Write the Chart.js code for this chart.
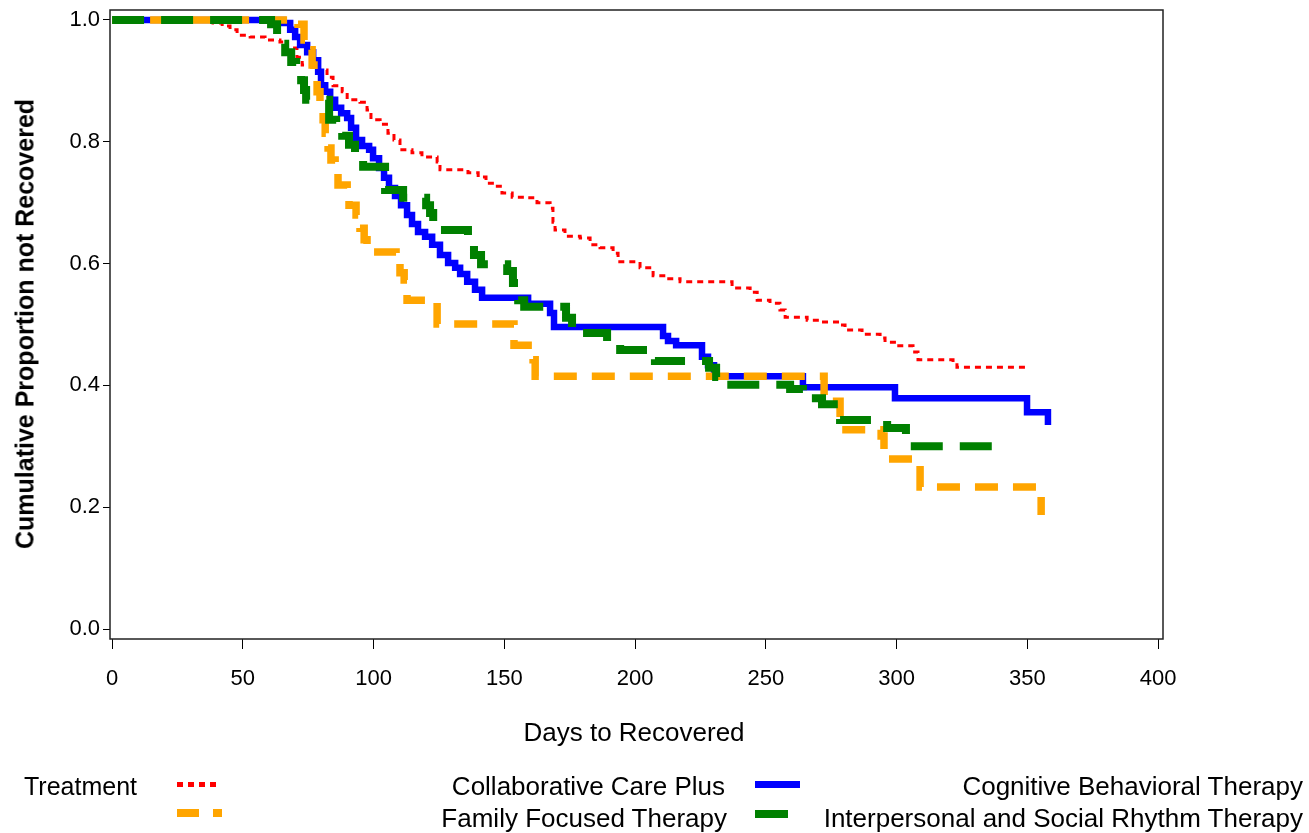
<!DOCTYPE html>
<html lang="en">
<head>
<meta charset="UTF-8">
<title>Days to Recovered</title>
<script src="https://cdn.jsdelivr.net/npm/chart.js"></script>
<style>
    html, body { margin: 0; padding: 0; background: #fff; }
    body {
        width: 1309px; height: 833px; position: relative; overflow: hidden;
        font-family: 'Liberation Sans', Arial, sans-serif; color: #000;
    }
    #km { position: absolute; left: 0; top: 0; }
    .ytitle {
        position: absolute; left: 25px; top: 324px; white-space: nowrap;
        transform: translate(-50%, -50%) rotate(-90deg);
        font-size: 25px; font-weight: bold;
    }
    .xtitle {
        position: absolute; left: 634px; top: 732px; white-space: nowrap;
        transform: translate(-50%, -50%); font-size: 26px;
    }
    .leg { position: absolute; font-size: 26px; white-space: nowrap; transform: translateY(-50%); }
    .swatch { position: absolute; }
</style>
</head>
<body>
<canvas id="km" width="1309" height="833"></canvas>
<div class="ytitle">Cumulative Proportion not Recovered</div>
<div class="xtitle">Days to Recovered</div>

<!-- legend -->
<div class="leg" style="left:24px; top:786px; font-size:25px;">Treatment</div>
<div class="swatch" style="left:177px; top:782px; width:41px; height:5px; background:repeating-linear-gradient(90deg,#ff0000 0 6px,transparent 6px 11px);"></div>
<div class="swatch" style="left:177px; top:809px; width:45px; height:8px; background:repeating-linear-gradient(90deg,#ffa500 0 22px,transparent 22px 36px);"></div>
<div class="leg" style="right:584px; top:786px;">Collaborative Care Plus</div>
<div class="leg" style="right:582px; top:818px;">Family Focused Therapy</div>
<div class="swatch" style="left:755px; top:781px; width:45px; height:7px; background:#0000ff;"></div>
<div class="swatch" style="left:755px; top:810px; width:45px; height:8px; background:repeating-linear-gradient(90deg,#008000 0 33px,transparent 33px 50px);"></div>
<div class="leg" style="right:6px; top:786px;">Cognitive Behavioral Therapy</div>
<div class="leg" style="right:6px; top:818px;">Interpersonal and Social Rhythm Therapy</div>

<script>
    // Collaborative Care Plus (red dotted)
    const ccpDays = [0, 38.6, 42.1, 45.1, 47.8, 52.8, 58.5, 64.2, 66.9, 70.7, 72.7, 76.9, 82.2, 84.5, 88.0, 89.9,
        94.8, 97.5, 99.0, 102.5, 105.5, 107.8, 110.1, 114.7, 118.5, 124.3, 125.4, 136.1, 140.0, 143.0, 146.5,
        149.1, 153.0, 157.9, 162.5, 167.5, 168.6, 169.4, 173.2, 179.0, 182.8, 186.6, 191.6, 193.5, 201.9,
        206.9, 212.2, 217.2, 237.1, 244.0, 246.7, 251.6, 255.4, 257.4, 265.8, 270.7, 278.4, 280.3, 286.8,
        293.7, 295.6, 300.2, 306.3, 308.2, 321.6, 323.1, 349.9];
    const ccpSurv = [1, 0.995, 0.990, 0.984, 0.975, 0.972, 0.967, 0.964, 0.954, 0.939, 0.926, 0.918, 0.906, 0.892, 0.882, 0.869,
        0.865, 0.852, 0.836, 0.829, 0.814, 0.803, 0.787, 0.782, 0.775, 0.767, 0.754, 0.749, 0.742, 0.732, 0.727,
        0.716, 0.709, 0.708, 0.700, 0.691, 0.668, 0.655, 0.645, 0.642, 0.631, 0.626, 0.617, 0.603, 0.593,
        0.580, 0.575, 0.570, 0.560, 0.553, 0.540, 0.535, 0.524, 0.512, 0.507, 0.504, 0.499, 0.491, 0.484,
        0.478, 0.471, 0.465, 0.455, 0.442, 0.437, 0.430, 0.430];

    // Cognitive Behavioral Therapy (blue solid)
    const cbtDays = [0, 65.4, 68.1, 70.0, 71.9, 74.6, 76.9, 78.8, 79.9, 81.5, 83.4, 85.3, 87.6, 89.9, 91.4, 93.3,
        95.6, 98.3, 99.8, 102.1, 104.0, 105.9, 108.2, 110.5, 112.8, 114.7, 117.0, 119.7, 122.4, 125.4, 128.5,
        131.2, 133.1, 135.8, 138.8, 141.5, 159.1, 167.5, 169.0, 210.7, 212.6, 215.7, 225.6, 227.9, 230.2,
        264.2, 299.4, 349.9, 357.9];
    const cbtSurv = [1, 0.995, 0.984, 0.972, 0.959, 0.947, 0.934, 0.915, 0.893, 0.882, 0.869, 0.856, 0.847, 0.839, 0.823, 0.803,
        0.793, 0.787, 0.773, 0.757, 0.741, 0.724, 0.711, 0.696, 0.680, 0.665, 0.652, 0.644, 0.631, 0.614, 0.601,
        0.593, 0.583, 0.570, 0.557, 0.544, 0.534, 0.519, 0.496, 0.481, 0.473, 0.466, 0.447, 0.433, 0.415,
        0.397, 0.379, 0.356, 0.335];

    // Family Focused Therapy (orange dashed)
    const fftDays = [0, 71.1, 73.4, 75.0, 76.5, 77.2, 78.4, 79.5, 80.7, 81.5, 82.6, 83.7, 85.3, 86.4, 89.9, 90.6,
        93.3, 94.8, 96.4, 97.5, 108.6, 110.1, 111.7, 112.8, 124.3, 153.7, 161.0, 161.8, 272.3, 278.4,
        294.1, 295.2, 307.8, 309.0, 354.5, 355.3];
    const fftSurv = [1, 0.993, 0.967, 0.951, 0.926, 0.905, 0.882, 0.856, 0.836, 0.814, 0.790, 0.770, 0.750, 0.729, 0.718, 0.696,
        0.680, 0.658, 0.639, 0.619, 0.606, 0.585, 0.573, 0.540, 0.501, 0.466, 0.442, 0.415, 0.374, 0.327,
        0.317, 0.279, 0.268, 0.233, 0.225, 0.187];

    // Interpersonal and Social Rhythm Therapy (green dashed)
    const ipsrtDays = [0, 60.8, 63.1, 64.6, 66.2, 68.5, 70.4, 72.3, 73.4, 74.2, 83.0, 85.7, 88.0, 90.6, 92.9, 94.8,
        96.0, 104.4, 111.3, 120.1, 121.6, 122.8, 136.1, 138.4, 141.1, 151.1, 153.3, 155.3, 157.6, 173.6,
        175.9, 189.3, 194.3, 207.6, 228.3, 231.0, 232.9, 259.3, 264.2, 271.5, 278.4, 296.4, 303.6, 338.0, 340.3];
    const ipsrtSurv = [1, 0.993, 0.975, 0.961, 0.947, 0.931, 0.918, 0.901, 0.885, 0.869, 0.836, 0.823, 0.810, 0.795, 0.783, 0.773,
        0.759, 0.721, 0.708, 0.696, 0.683, 0.655, 0.637, 0.614, 0.599, 0.588, 0.568, 0.540, 0.529, 0.511,
        0.486, 0.470, 0.458, 0.440, 0.429, 0.414, 0.401, 0.394, 0.379, 0.369, 0.343, 0.330, 0.300, 0.292, 0.292];

    const xTicks = [0, 50, 100, 150, 200, 250, 300, 350, 400];
    const yTicks = [0, 0.2, 0.4, 0.6, 0.8, 1.0];

    const pts = (days, surv) => days.map((d, i) => ({ x: d, y: surv[i] }));

    const line = (data, color, width, dash) => ({
        data: data,
        borderColor: color,
        borderWidth: width,
        borderDash: dash,
        borderCapStyle: 'butt',
        borderJoinStyle: 'miter',
        stepped: true,
        pointRadius: 0,
        fill: false
    });

    // frame round the plot area
    const frame = {
        id: 'frame',
        afterDraw(chart) {
            const { ctx, chartArea: a } = chart;
            ctx.save();
            ctx.strokeStyle = '#222';
            ctx.lineWidth = 1.5;
            ctx.strokeRect(a.left, a.top, a.right - a.left, a.bottom - a.top);
            ctx.restore();
        }
    };

    const tickFont = { family: "'Liberation Sans', Arial, sans-serif", size: 22 };

    new Chart(document.getElementById('km'), {
        type: 'line',
        data: {
            // index 0 is drawn on top
            datasets: [
                line(pts(ipsrtDays, ipsrtSurv), '#008000', 8, [32, 17]),
                line(pts(fftDays, fftSurv), '#ffa500', 7.5, [23, 15]),
                line(pts(cbtDays, cbtSurv), '#0000ff', 6.5, []),
                line(pts(ccpDays, ccpSurv), '#ff0000', 3, [6, 5])
            ]
        },
        options: {
            responsive: false,
            animation: false,
            devicePixelRatio: 1,
            layout: { padding: { left: 0, top: 10, right: 146, bottom: 0 } },
            plugins: { legend: { display: false }, tooltip: { enabled: false } },
            scales: {
                x: {
                    type: 'linear',
                    min: -0.8, max: 401.9,
                    afterFit: s => { s.height = 194; s.paddingLeft = 0; s.paddingRight = 0; },
                    afterBuildTicks: s => { s.ticks = xTicks.map(v => ({ value: v })); },
                    border: { display: false },
                    grid: { drawOnChartArea: false, drawTicks: true, tickLength: 10, color: '#000', lineWidth: 1 },
                    ticks: { font: tickFont, color: '#000', padding: 17, maxRotation: 0, callback: v => String(v) }
                },
                y: {
                    type: 'linear',
                    min: -0.0164, max: 1.0164,
                    afterFit: s => { s.width = 110; s.paddingTop = 0; s.paddingBottom = 0; },
                    afterBuildTicks: s => { s.ticks = yTicks.map(v => ({ value: v })); },
                    border: { display: false },
                    grid: { drawOnChartArea: false, drawTicks: true, tickLength: 7, color: '#000', lineWidth: 1 },
                    ticks: { font: tickFont, color: '#000', padding: 3, callback: v => Number(v).toFixed(1) }
                }
            }
        },
        plugins: [frame]
    });
</script>
</body>
</html>
